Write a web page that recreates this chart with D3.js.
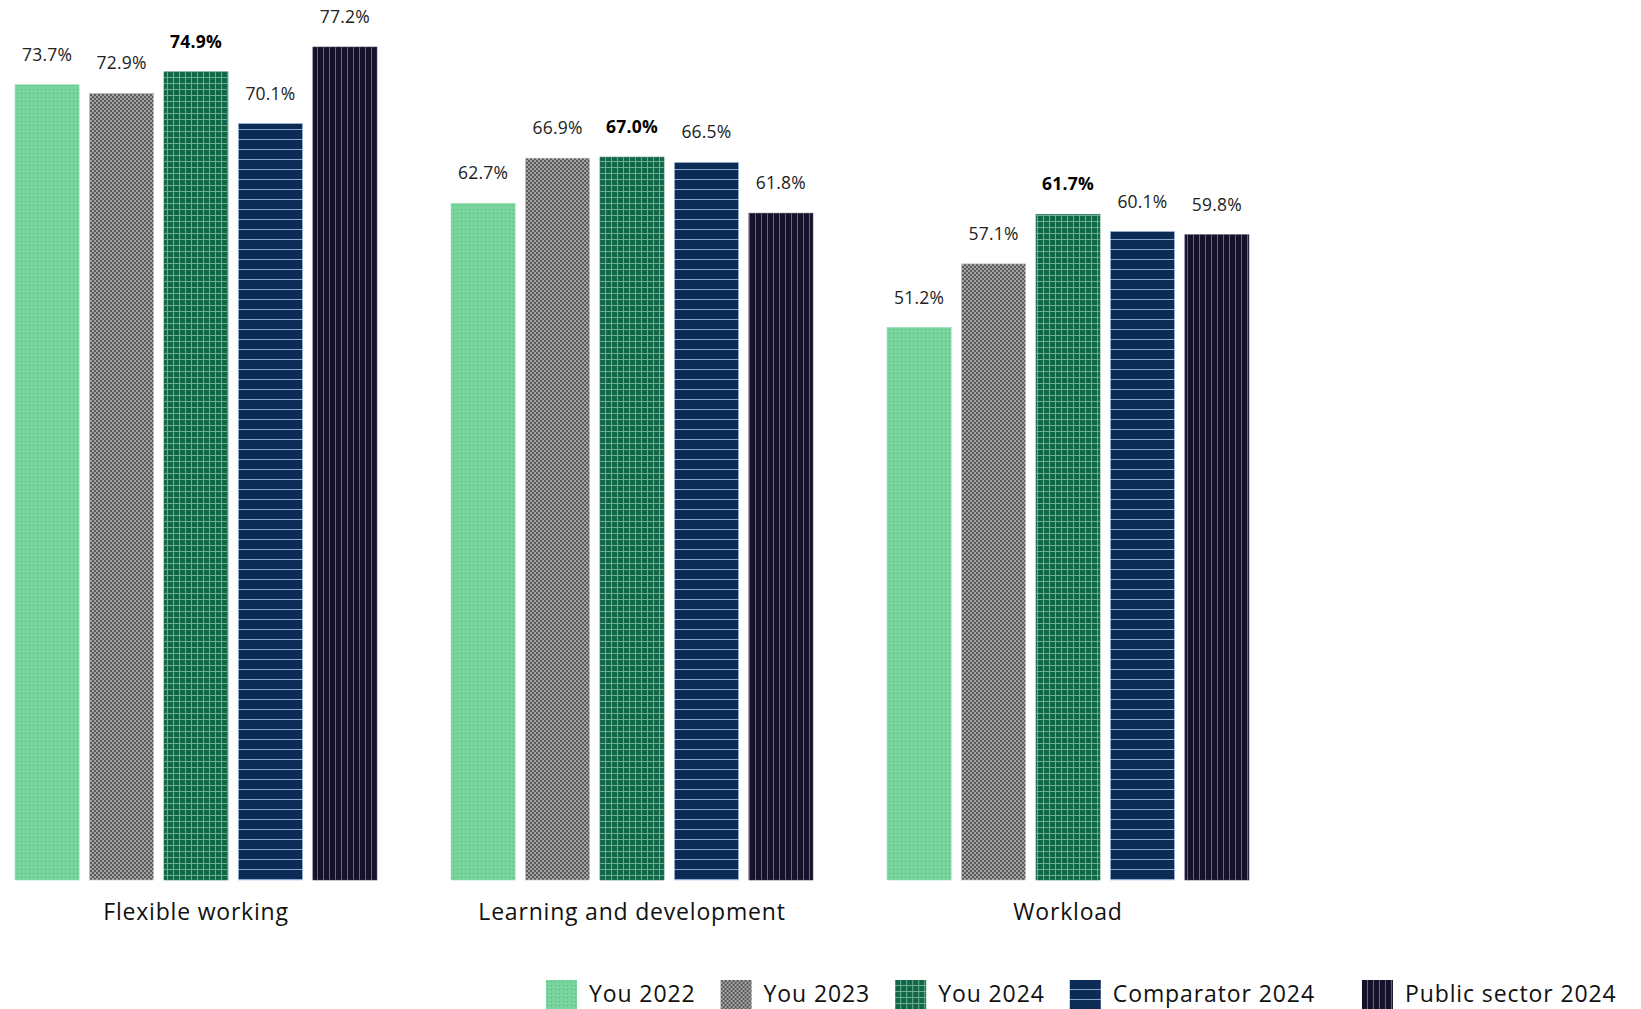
<!DOCTYPE html>
<html>
<head>
<meta charset="utf-8">
<script src="https://cdn.jsdelivr.net/npm/d3@7"></script>
<style>
  html, body { margin: 0; padding: 0; background: #fff; }
  svg { display: block; font-family: "Open Sans", "Noto Sans", sans-serif; }
</style>
</head>
<body>
<svg id="chart" width="1641" height="1009"></svg>
<script>
const categories = ["Flexible working", "Learning and development", "Workload"];
const seriesNames = ["You 2022", "You 2023", "You 2024", "Comparator 2024", "Public sector 2024"];
const you2022 = [73.7, 62.7, 51.2];
const you2023 = [72.9, 66.9, 57.1];
const you2024 = [74.9, 67.0, 61.7];
const comparator2024 = [70.1, 66.5, 60.1];
const publicSector2024 = [77.2, 61.8, 59.8];
const seriesValues = [you2022, you2023, you2024, comparator2024, publicSector2024];
const boldSeries = "You 2024";

const svg = d3.select("#chart");
const defs = svg.append("defs");

function pat(id, w, h) {
  return defs.append("pattern").attr("id", id).attr("patternUnits", "userSpaceOnUse")
    .attr("width", w).attr("height", h);
}
// You 2022: light green with small dots
let p = pat("p0", 4, 4);
p.append("rect").attr("width", 4).attr("height", 4).attr("fill", "#78d59d");
p.append("rect").attr("x", 1).attr("y", 1).attr("width", 1).attr("height", 1).attr("fill", "#4fae7c");
// You 2023: grey checker
p = pat("p1", 4, 4);
p.append("rect").attr("width", 4).attr("height", 4).attr("fill", "#a3a3a3");
p.append("rect").attr("width", 2).attr("height", 2).attr("fill", "#5a5a5a");
p.append("rect").attr("x", 2).attr("y", 2).attr("width", 2).attr("height", 2).attr("fill", "#5a5a5a");
// You 2024: dark green grid
p = pat("p2", 6, 6);
p.append("rect").attr("width", 6).attr("height", 6).attr("fill", "#116848");
p.append("rect").attr("x", 5).attr("width", 1).attr("height", 6).attr("fill", "#6fae90");
p.append("rect").attr("y", 5).attr("width", 6).attr("height", 1).attr("fill", "#6fae90");
// Comparator 2024: navy with horizontal light lines
p = pat("p3", 10, 10);
p.append("rect").attr("width", 10).attr("height", 10).attr("fill", "#0c2b55");
p.append("rect").attr("y", 9).attr("width", 10).attr("height", 1).attr("fill", "#7fa5cf");
// Public sector 2024: very dark navy with vertical lines
p = pat("p4", 6, 6);
p.append("rect").attr("width", 6).attr("height", 6).attr("fill", "#15112b");
p.append("rect").attr("x", 5).attr("width", 1).attr("height", 6).attr("fill", "#6b6285");

const fills = seriesNames.map((s, i) => `url(#p${i})`);
const strokes = ["#8fdcae", "#bdbdbd", "#2f7d60", "#9dbbe0", "#3a3550"];

// scales
const x0 = d3.scaleBand().domain(categories).range([-22, 1286]).paddingInner(0.17).paddingOuter(0.085);
const x1 = d3.scaleBand().domain(seriesNames).range([0, x0.bandwidth()]).paddingInner(0.14).paddingOuter(0);
const y = d3.scaleLinear().domain([0, 80]).range([880, 880 - 80 * 10.79]);

const data = [];
categories.forEach((c, ci) => {
  seriesNames.forEach((s, si) => {
    data.push({ cat: c, series: s, si, value: seriesValues[si][ci] });
  });
});

const g = svg.append("g");
g.selectAll("rect.bar").data(data).join("rect")
  .attr("class", "bar")
  .attr("x", d => x0(d.cat) + x1(d.series))
  .attr("y", d => y(d.value))
  .attr("width", x1.bandwidth())
  .attr("height", d => y(0) - y(d.value))
  .attr("fill", d => fills[d.si])
  .attr("stroke", d => strokes[d.si])
  .attr("stroke-width", 0.6);

g.selectAll("text.val").data(data).join("text")
  .attr("class", "val")
  .attr("x", d => x0(d.cat) + x1(d.series) + x1.bandwidth() / 2)
  .attr("y", d => y(d.value) - 24)
  .attr("text-anchor", "middle")
  .attr("font-size", 17.5)
  .attr("letter-spacing", 0.2)
  .attr("font-weight", d => d.series === boldSeries ? 700 : 400)
  .attr("fill", d => d.series === boldSeries ? "#000" : "#222")
  .text(d => d.value.toFixed(1) + "%");

// category axis labels
const xAxis = d3.axisBottom(x0).tickSize(0).tickPadding(0);
const ax = svg.append("g").attr("transform", "translate(0,900)").call(xAxis);
ax.select(".domain").remove();
ax.selectAll("text").attr("font-size", 23).attr("letter-spacing", 0.8).attr("fill", "#111")
  .attr("font-family", "'Open Sans', sans-serif").attr("dy", "0.85em");

// legend
const legend = svg.append("g").attr("transform", "translate(0,980)");
let lx = 546;
seriesNames.forEach((s, i) => {
  if (i === seriesNames.length - 1) lx += 22;
  const it = legend.append("g").attr("transform", `translate(${lx},0)`);
  it.append("rect").attr("width", 31).attr("height", 29).attr("fill", fills[i]);
  const t = it.append("text").attr("x", 43).attr("y", 22).attr("font-size", 23)
    .attr("letter-spacing", 0.9).attr("fill", "#111").text(s);
  lx += 43 + t.node().getComputedTextLength() + 25;
});
</script>
</body>
</html>
